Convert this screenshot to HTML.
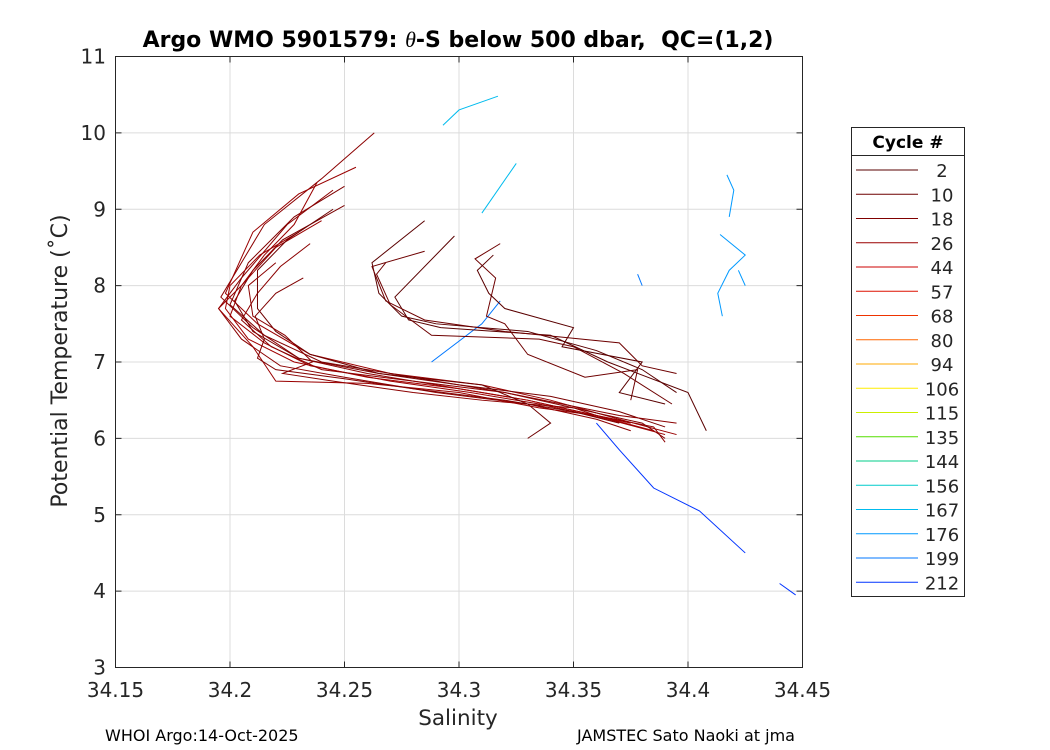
<!DOCTYPE html>
<html><head><meta charset="utf-8"><style>
body{margin:0;background:#fff;}
svg{display:block;font-family:"DejaVu Sans","Liberation Sans",sans-serif;}
</style></head><body>
<svg id="chart" width="1050" height="750" xmlns="http://www.w3.org/2000/svg">
<rect x="0" y="0" width="1050" height="750" fill="#fff"/>
<g id="grid"></g>
<g id="series"></g>
<rect x="115.5" y="56.5" width="687" height="611" fill="none" stroke="#262626" stroke-width="1"/>
<g id="ticks"></g>
<text x="458" y="47" text-anchor="middle" font-size="22" font-weight="bold" fill="#000">Argo WMO 5901579: <tspan font-style="italic" font-weight="normal" font-family="Liberation Serif">θ</tspan>-S below 500 dbar,&#160; QC=(1,2)</text>
<text x="458" y="725" text-anchor="middle" font-size="21.5" fill="#262626">Salinity</text>
<text transform="translate(67,361) rotate(-90)" text-anchor="middle" font-size="22" fill="#262626">Potential Temperature (˚C)</text>
<text x="105" y="741" font-size="16" fill="#000">WHOI Argo:14-Oct-2025</text>
<text x="577" y="741" font-size="16" fill="#000">JAMSTEC Sato Naoki at jma</text>
<g id="legend">
<rect x="851.5" y="127.5" width="113" height="469" fill="#fff" stroke="#262626"/>
<line x1="851.5" y1="155.5" x2="964.5" y2="155.5" stroke="#262626"/>
<text x="908" y="148" text-anchor="middle" font-size="17" font-weight="bold">Cycle #</text>
</g>
</svg>
<script>
const xTicks=[34.15,34.2,34.25,34.3,34.35,34.4,34.45];
const xTickLabels=["34.15","34.2","34.25","34.3","34.35","34.4","34.45"];
const yTicks=[3,4,5,6,7,8,9,10,11];
const legendCycles=["2","10","18","26","44","57","68","80","94","106","115","135","144","156","167","176","199","212"];
const legendColors=["#5a0000","#6e0000","#800000","#9a0000","#cc0000","#dd1100","#ee3300","#ff6600","#ffaa00","#ffee00","#ccee00","#55dd00","#00cc88","#00cccc","#00bbee","#0099ff","#0077ff","#0033ff"];
// profiles: salinity/temperature pairs
const profS=[
[34.263,34.24,34.215,34.196,34.21,34.23,34.26,34.29,34.33,34.36,34.385,34.39],
[34.255,34.23,34.21,34.198,34.212,34.235,34.27,34.31,34.34,34.37,34.395],
[34.25,34.228,34.208,34.2,34.215,34.24,34.28,34.32,34.35,34.38,34.39],
[34.245,34.225,34.205,34.195,34.205,34.222,34.25,34.29,34.33,34.36,34.375],
[34.25,34.223,34.21,34.202,34.21,34.23,34.265,34.3,34.34,34.37,34.39],
[34.24,34.22,34.205,34.2,34.215,34.235,34.27,34.305,34.335,34.365,34.39],
[34.23,34.213,34.2,34.198,34.208,34.228,34.26,34.3,34.33,34.36,34.385],
[34.235,34.222,34.212,34.205,34.218,34.24,34.28,34.32,34.345,34.37,34.395],
[34.245,34.225,34.212,34.212,34.22,34.235,34.265,34.31,34.33,34.34,34.33],
[34.22,34.208,34.21,34.224,34.236,34.223,34.245,34.28,34.31,34.35,34.36],
[34.238,34.228,34.215,34.205,34.195,34.21,34.22,34.26,34.3,34.335,34.36,34.375],
[34.232,34.22,34.211,34.215,34.212,34.22,34.25,34.28,34.32,34.35,34.37],
[34.285,34.262,34.265,34.275,34.29,34.33,34.36,34.38,34.395],
[34.298,34.272,34.278,34.292,34.34,34.365,34.4,34.408],
[34.285,34.262,34.268,34.285,34.32,34.37,34.38,34.395],
[34.268,34.264,34.27,34.288,34.335,34.35,34.372,34.393],
[34.318,34.307,34.316,34.312,34.32,34.33,34.355,34.378,34.375],
[34.315,34.308,34.313,34.32,34.35,34.345,34.38,34.37,34.39]
];
const profT=[
[10.0,9.4,8.8,7.85,7.45,7.05,6.85,6.7,6.5,6.3,6.15,5.95],
[9.55,9.2,8.7,7.9,7.5,7.1,6.85,6.7,6.5,6.25,6.05],
[9.3,8.9,8.3,7.75,7.35,7.0,6.8,6.6,6.4,6.2,6.0],
[9.25,8.8,8.1,7.7,7.3,6.95,6.8,6.6,6.45,6.25,6.1],
[9.05,8.6,8.2,7.8,7.4,7.05,6.85,6.7,6.55,6.35,6.15],
[8.85,8.5,8.0,7.6,7.25,6.95,6.75,6.6,6.45,6.25,6.05],
[8.7,8.4,8.0,7.7,7.3,7.0,6.8,6.65,6.5,6.3,6.1],
[8.55,8.25,7.9,7.55,7.2,6.9,6.75,6.6,6.45,6.3,6.2],
[9.0,8.6,8.2,7.7,7.4,7.1,6.85,6.7,6.45,6.2,6.0],
[8.3,8.0,7.6,7.35,7.0,6.85,6.75,6.6,6.5,6.4,6.3],
[9.35,8.8,8.4,8.0,7.7,7.2,6.75,6.72,6.6,6.4,6.3,6.2],
[8.1,7.9,7.6,7.3,7.05,6.9,6.78,6.65,6.5,6.35,6.2],
[8.85,8.3,7.9,7.6,7.5,7.4,7.15,6.9,6.6],
[8.65,7.85,7.55,7.45,7.35,7.0,6.6,6.1],
[8.45,8.25,7.8,7.55,7.4,7.25,6.95,6.85],
[8.3,8.15,7.75,7.35,7.3,7.2,6.85,6.45],
[8.55,8.35,8.1,7.6,7.5,7.1,6.8,6.9,6.5],
[8.4,8.2,7.9,7.7,7.45,7.2,7.0,6.6,6.45]
];
const profColor=["#8b0000","#990000","#800000","#8b0000","#7a0000","#990000","#a00000","#8b0000","#6e0000","#8b0000","#990000","#800000","#5a0000","#5a0000","#6e0000","#6e0000","#6e0000","#5a0000"];
const blueS=[[34.36,34.37,34.385,34.405,34.425],[34.44,34.447],[34.288,34.31,34.318],[34.293,34.3,34.317],[34.31,34.325],[34.417,34.42,34.418],[34.414,34.425,34.418,34.413,34.415],[34.422,34.425],[34.378,34.38]];
const blueT=[[6.2,5.85,5.35,5.05,4.5],[4.1,3.95],[7.0,7.5,7.8],[10.1,10.3,10.48],[8.95,9.6],[9.45,9.25,8.9],[8.67,8.4,8.2,7.9,7.6],[8.2,8.0],[8.15,8.0]];
const blueColor=["#0033ff","#0033ff","#0077ff","#00bbee","#00bbee","#0099ff","#0099ff","#0099ff","#0077ff"];

const NS="http://www.w3.org/2000/svg";
const X0=115.5,X1=802.5,Y0=667.5,Y1=56.5;
function sx(s){return X0+(s-34.15)/0.3*(X1-X0);}
function ty(t){return Y0-(t-3)/8*(Y0-Y1);}
function mk(tag,attrs,parent){const e=document.createElementNS(NS,tag);for(const k in attrs)e.setAttribute(k,attrs[k]);parent.appendChild(e);return e;}
const grid=document.getElementById('grid'),ticks=document.getElementById('ticks'),ser=document.getElementById('series'),leg=document.getElementById('legend');
xTicks.forEach((v,i)=>{
  const x=sx(v);
  const g=mk('line',{x1:x,x2:x,y1:Y1,y2:Y0,stroke:'#dcdcdc'},grid);
  
  
  mk('line',{x1:x,x2:x,y1:Y0,y2:Y0-6,stroke:'#262626'},ticks);
  mk('line',{x1:x,x2:x,y1:Y1,y2:Y1+6,stroke:'#262626'},ticks);
  const t=mk('text',{x:x,y:697,'text-anchor':'middle','font-size':20,fill:'#262626'},ticks);
  t.textContent=xTickLabels[i];
  
  
});
yTicks.forEach(v=>{
  const y=ty(v);
  const g=mk('line',{x1:X0,x2:X1,y1:y,y2:y,stroke:'#dcdcdc'},grid);
  
  
  mk('line',{x1:X0,x2:X0+6,y1:y,y2:y,stroke:'#262626'},ticks);
  mk('line',{x1:X1,x2:X1-6,y1:y,y2:y,stroke:'#262626'},ticks);
  const t=mk('text',{x:106,y:y+7,'text-anchor':'end','font-size':20,fill:'#262626'},ticks);
  t.textContent=String(v);
  
  
});
function drawLine(S,T,c){
  const p=mk('polyline',{points:S.map((s,i)=>sx(s)+','+ty(T[i])).join(' '),fill:'none',stroke:c,'stroke-width':1},ser);
  
  
}
blueS.forEach((S,i)=>drawLine(S,blueT[i],blueColor[i]));
profS.forEach((S,i)=>drawLine(S,profT[i],profColor[i]));
legendCycles.forEach((c,i)=>{
  const y=170+i*24.25;
  const l=mk('line',{x1:856,x2:918,y1:y,y2:y,stroke:legendColors[i],'stroke-width':1},leg);
  
  
  const t=mk('text',{x:942,y:y+7,'text-anchor':'middle','font-size':18,fill:'#262626'},leg);
  t.textContent=c;
  
  
});
</script>
</body></html>
